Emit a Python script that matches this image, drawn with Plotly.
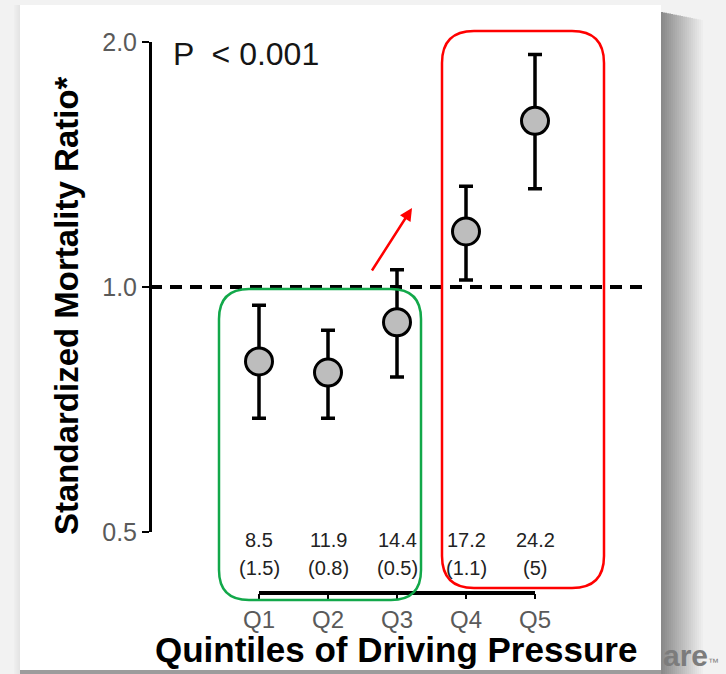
import plotly.graph_objects as go

# Standardized mortality ratio by quintile of driving pressure
quintiles = ["Q1", "Q2", "Q3", "Q4", "Q5"]
smr = [0.81, 0.785, 0.905, 1.17, 1.60]
smr_upper = [0.95, 0.885, 1.05, 1.33, 1.93]
smr_lower = [0.69, 0.69, 0.775, 1.02, 1.32]
dp_mean = ["8.5", "11.9", "14.4", "17.2", "24.2"]
dp_sd = ["(1.5)", "(0.8)", "(0.5)", "(1.1)", "(5)"]
y_ticks = [0.5, 1.0, 2.0]
y_ticktext = ["0.5", "1.0", "2.0"]

W, H = 726, 674
FONT = "Liberation Sans, Arial, sans-serif"


def px(x):
    return x / W


def py(y):
    return 1 - y / H


def rounded_rect(x0, y0, x1, y1, r):
    pts = [
        ("M", [(x0 + r, y0)]),
        ("L", [(x1 - r, y0)]),
        ("Q", [(x1, y0), (x1, y0 + r)]),
        ("L", [(x1, y1 - r)]),
        ("Q", [(x1, y1), (x1 - r, y1)]),
        ("L", [(x0 + r, y1)]),
        ("Q", [(x0, y1), (x0, y1 - r)]),
        ("L", [(x0, y0 + r)]),
        ("Q", [(x0, y0), (x0 + r, y0)]),
    ]
    parts = []
    for cmd, coords in pts:
        parts.append(cmd + " " + " ".join(f"{px(a):.5f},{py(b):.5f}" for a, b in coords))
    return " ".join(parts) + " Z"


x_idx = list(range(len(quintiles)))
err_plus = [u - v for u, v in zip(smr_upper, smr)]
err_minus = [v - l for v, l in zip(smr, smr_lower)]

fig = go.Figure()
fig.add_trace(go.Scatter(
    x=x_idx, y=smr, mode="markers",
    marker=dict(size=27, color="#bdbdbd", line=dict(color="black", width=3)),
    error_y=dict(type="data", symmetric=False, array=err_plus, arrayminus=err_minus,
                 color="black", thickness=3.5, width=7),
    cliponaxis=False, showlegend=False, hoverinfo="skip",
))

shapes = []
# page background, panel shadow and white panel
shapes.append(dict(type="rect", xref="paper", yref="paper", x0=0, x1=1, y0=0, y1=1,
                   fillcolor="#f2f2f2", line_width=0, layer="below"))
n = 22
for i in range(n):
    t = i / (n - 1)
    g = int(0x8a + (0xf2 - 0x8a) * t)
    col = f"rgb({g},{g},{g})"
    shapes.append(dict(type="rect", xref="paper", yref="paper",
                       x0=px(661 + i * 2), x1=px(661 + (i + 1) * 2),
                       y0=py(674), y1=py(12 + i * 0.4), fillcolor=col, line_width=0, layer="below"))
for i in range(6):
    g = int(0xee - i * 2)
    shapes.append(dict(type="rect", xref="paper", yref="paper",
                       x0=px(14 + i), x1=px(15 + i), y0=py(674), y1=py(5),
                       fillcolor=f"rgb({g},{g},{g})", line_width=0, layer="below"))
shapes.append(dict(type="rect", xref="paper", yref="paper", x0=px(20), x1=px(661),
                   y0=py(674), y1=py(670), fillcolor="#9c9c9c", line_width=0, layer="below"))
shapes.append(dict(type="rect", xref="paper", yref="paper", x0=px(20), x1=px(661),
                   y0=py(670), y1=py(5), fillcolor="white", line_width=0, layer="below"))

# reference line at SMR = 1
shapes.append(dict(type="line", xref="paper", yref="y", x0=px(150), x1=px(648), y0=1, y1=1,
                   line=dict(color="black", width=4, dash="12px,8px"), layer="below"))
# x-axis baseline spanning Q1..Q5
shapes.append(dict(type="line", xref="x", yref="paper", x0=0, x1=len(quintiles) - 1,
                   y0=py(593), y1=py(593), line=dict(color="black", width=4)))
# grouping boxes
shapes.append(dict(type="path", xref="paper", yref="paper",
                   path=rounded_rect(219, 289, 421, 600, 30),
                   line=dict(color="#12a84a", width=2.5)))
shapes.append(dict(type="path", xref="paper", yref="paper",
                   path=rounded_rect(442, 31, 604, 588, 32),
                   line=dict(color="#ff0000", width=2.5)))


def label(x, y, text, size, color, xref="paper", **kw):
    d = dict(x=x, y=y, xref=xref, yref="paper", text=text, showarrow=False,
             xanchor="center", yanchor="middle",
             font=dict(family=FONT, size=size, color=color))
    d.update(kw)
    return d


annotations = []
for i in x_idx:
    annotations.append(label(i, py(540), dp_mean[i], 20, "#222222", xref="x"))
    annotations.append(label(i, py(568), dp_sd[i], 20, "#222222", xref="x"))

annotations.append(label(px(171), py(54), "P  &lt; 0.001", 32, "#151515", xanchor="left"))
annotations.append(label(px(66), py(306), "<b>Standardized Mortality Ratio*</b>", 33, "black",
                         textangle=-90))
annotations.append(label(px(396), py(649), "<b>Quintiles of Driving Pressure</b>", 35, "black"))
annotations.append(dict(x=px(412), y=py(208), xref="paper", yref="paper", text="",
                        showarrow=True, ax=-41, ay=64, arrowhead=2, arrowsize=1,
                        arrowwidth=2.5, arrowcolor="#ff0000"))
annotations.append(label(px(661), py(655),
                         "<b>are</b><span style='font-size:11px'>™</span>", 30, "#7c7c7c",
                         xanchor="left"))

fig.update_layout(
    width=W, height=H, margin=dict(l=0, r=0, t=0, b=0, pad=0, autoexpand=False),
    paper_bgcolor="#f2f2f2", plot_bgcolor="rgba(0,0,0,0)",
    shapes=shapes, annotations=annotations,
    xaxis=dict(domain=[px(150), px(660)], range=[(150 - 259) / 69, (660 - 259) / 69],
               anchor="free", position=py(593), showgrid=False, zeroline=False, showline=False,
               automargin=False,
               tickmode="array", tickvals=x_idx, ticktext=quintiles,
               ticks="outside", ticklen=5, tickwidth=2, tickcolor="black",
               tickfont=dict(family=FONT, size=24, color="#5a5a5a")),
    yaxis=dict(domain=[py(532), py(42)], type="log", range=[-0.30103, 0.30103],
               anchor="free", position=px(150), showgrid=False, zeroline=False,
               automargin=False,
               showline=True, linecolor="black", linewidth=3,
               tickmode="array", tickvals=y_ticks, ticktext=y_ticktext,
               ticks="outside", ticklen=7, tickwidth=2, tickcolor="black",
               tickfont=dict(family=FONT, size=25, color="#5a5a5a")),
)

fig.write_html("out.html")
